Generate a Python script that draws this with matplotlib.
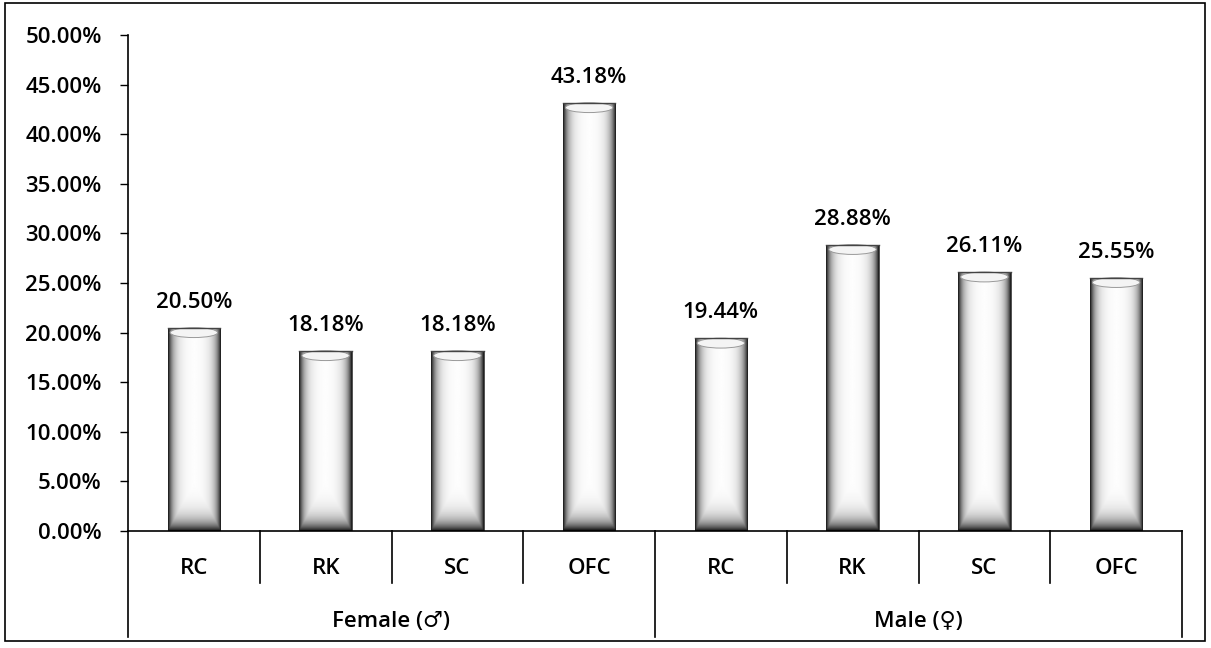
import numpy as np
import matplotlib
matplotlib.use('Agg')
import matplotlib.pyplot as plt
from matplotlib.patches import Ellipse, Rectangle
import matplotlib.transforms as mtransforms

plt.rcParams['font.family'] = ['Open Sans', 'DejaVu Sans']
plt.rcParams['font.weight'] = 'semibold'

groups = ['Female (\u2642)', 'Male (\u2640)']
categories = ['RC', 'RK', 'SC', 'OFC', 'RC', 'RK', 'SC', 'OFC']
values = [20.50, 18.18, 18.18, 43.18, 19.44, 28.88, 26.11, 25.55]
yticks = [0, 5, 10, 15, 20, 25, 30, 35, 40, 45, 50]

fs = 16

fig = plt.figure(figsize=(12.11, 6.48), dpi=100)
ax = fig.add_axes([128 / 1211, 1 - 531 / 648, (1182 - 128) / 1211, (531 - 35) / 648])

x = np.arange(len(values))
bars = ax.bar(x, values, width=0.4, color='white', edgecolor='#333333', linewidth=0.6, zorder=2)

# cylinder shading: dark edges and dark bottom, clipped to each bar
u = np.linspace(0, 1, 80)
edge = np.minimum(u, 1 - u)
hprof = np.exp(-edge / 0.1)
for b, v in zip(bars, values):
    yy = np.linspace(0, v, 200)
    vprof = np.exp(-yy / 1.0)
    dark = np.maximum(hprof[None, :], vprof[:, None])
    img = 1 - 0.9 * dark
    im = ax.imshow(img, extent=(b.get_x(), b.get_x() + b.get_width(), 0, v),
                   origin='lower', cmap='gray', vmin=0, vmax=1, aspect='auto', zorder=2.5,
                   interpolation='bilinear')
    im.set_clip_path(b)
    ax.add_patch(Ellipse((b.get_x() + b.get_width() / 2, v - 0.5), b.get_width() * 0.9, 1.0,
                         facecolor='#f4f4f4', edgecolor='#999999', linewidth=0.7, zorder=3))
    ax.plot([b.get_x(), b.get_x() + b.get_width()], [v, v], color='#444444', lw=1.0, zorder=3.5)
    ax.text(b.get_x() + b.get_width() / 2, v + 1.5, f'{v:.2f}%', ha='center', va='bottom',
            fontsize=fs, zorder=4)

ax.set_xlim(-0.5, len(values) - 0.5)
ax.set_ylim(0, 50)
ax.set_yticks(yticks)
ax.set_yticklabels([f'{t:.2f}%' for t in yticks], fontsize=fs)
ax.set_xticks([])
ax.tick_params(axis='y', direction='out', length=6, width=1, color='black', pad=13)
for s in ['top', 'right']:
    ax.spines[s].set_visible(False)
ax.spines['left'].set_linewidth(1.2)
ax.spines['bottom'].set_linewidth(1.2)

# two-level category axis
trans = mtransforms.blended_transform_factory(ax.transData, ax.transAxes)
for i, c in enumerate(categories):
    ax.text(i, -0.075, c, transform=trans, ha='center', va='center', fontsize=fs)
for i in range(len(categories) + 1):
    xpos = i - 0.5
    y0 = -0.214 if i % 4 == 0 else -0.105
    ax.plot([xpos, xpos], [0, y0], transform=trans, color='black', lw=1.2, clip_on=False)
for g, name in enumerate(groups):
    ax.text(g * 4 + 1.5, -0.183, name, transform=trans, ha='center', va='center', fontsize=fs)

# outer frame
fig.patches.append(Rectangle((5 / 1211, 1 - 641 / 648), 1200 / 1211, 638 / 648,
                             transform=fig.transFigure, fill=False, edgecolor='black', lw=1.2))

fig.savefig('out.png', dpi=100)
